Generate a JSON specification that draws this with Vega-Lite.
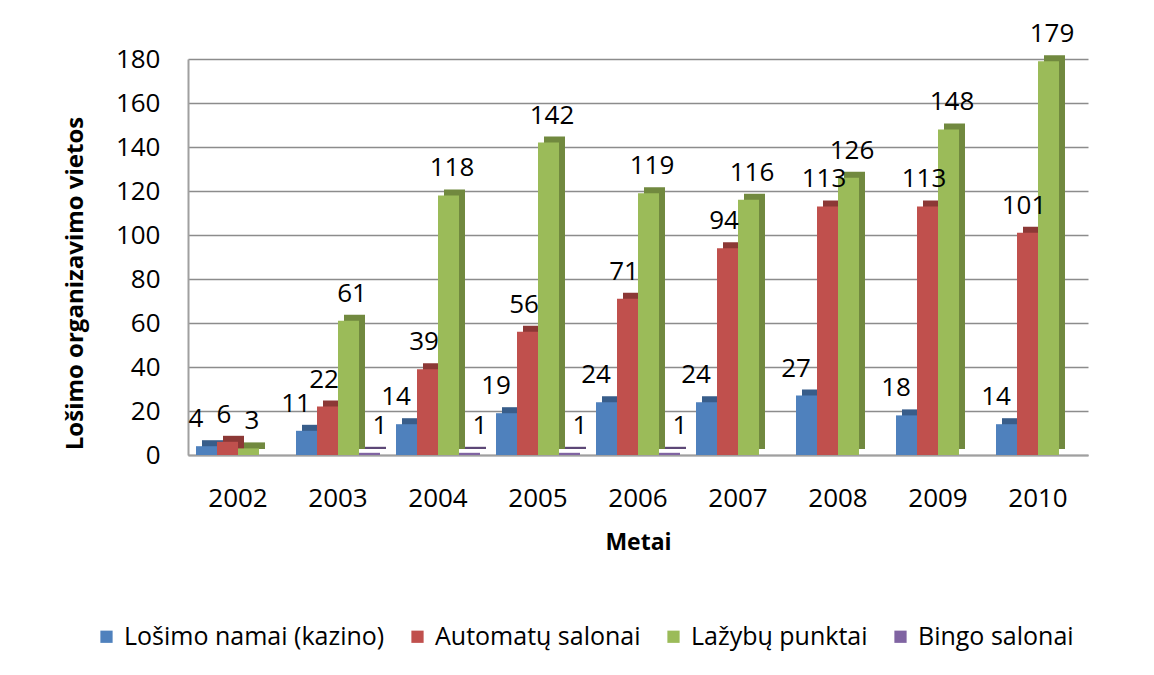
{
  "$schema": "https://vega.github.io/schema/vega-lite/v6.json",
  "width": 900,
  "height": 396,
  "autosize": "none",
  "padding": {"left": 188, "top": 59, "right": 66, "bottom": 220},
  "background": "white",
  "config": {
    "font": "Open Sans",
    "view": {"stroke": null}
  },
  "data": {
    "values": [
      {"year": "2002", "series": "Lošimo namai (kazino)", "value": 4},
      {"year": "2002", "series": "Automatų salonai", "value": 6},
      {"year": "2002", "series": "Lažybų punktai", "value": 3},
      {"year": "2003", "series": "Lošimo namai (kazino)", "value": 11},
      {"year": "2003", "series": "Automatų salonai", "value": 22},
      {"year": "2003", "series": "Lažybų punktai", "value": 61},
      {"year": "2003", "series": "Bingo salonai", "value": 1},
      {"year": "2004", "series": "Lošimo namai (kazino)", "value": 14},
      {"year": "2004", "series": "Automatų salonai", "value": 39},
      {"year": "2004", "series": "Lažybų punktai", "value": 118},
      {"year": "2004", "series": "Bingo salonai", "value": 1},
      {"year": "2005", "series": "Lošimo namai (kazino)", "value": 19},
      {"year": "2005", "series": "Automatų salonai", "value": 56},
      {"year": "2005", "series": "Lažybų punktai", "value": 142},
      {"year": "2005", "series": "Bingo salonai", "value": 1},
      {"year": "2006", "series": "Lošimo namai (kazino)", "value": 24},
      {"year": "2006", "series": "Automatų salonai", "value": 71},
      {"year": "2006", "series": "Lažybų punktai", "value": 119},
      {"year": "2006", "series": "Bingo salonai", "value": 1},
      {"year": "2007", "series": "Lošimo namai (kazino)", "value": 24},
      {"year": "2007", "series": "Automatų salonai", "value": 94},
      {"year": "2007", "series": "Lažybų punktai", "value": 116},
      {"year": "2008", "series": "Lošimo namai (kazino)", "value": 27},
      {"year": "2008", "series": "Automatų salonai", "value": 113},
      {"year": "2008", "series": "Lažybų punktai", "value": 126},
      {"year": "2009", "series": "Lošimo namai (kazino)", "value": 18},
      {"year": "2009", "series": "Automatų salonai", "value": 113},
      {"year": "2009", "series": "Lažybų punktai", "value": 148},
      {"year": "2010", "series": "Lošimo namai (kazino)", "value": 14},
      {"year": "2010", "series": "Automatų salonai", "value": 101},
      {"year": "2010", "series": "Lažybų punktai", "value": 179}
    ]
  },
  "encoding": {
    "x": {
      "field": "year",
      "type": "ordinal",
      "scale": {"paddingInner": 0.16, "paddingOuter": 0.08},
      "axis": {
        "title": "Metai",
        "labelAngle": 0,
        "labelFontSize": 26,
        "labelColor": "black",
        "labelPadding": 30,
        "ticks": false,
        "domainColor": "#a0a0a0",
        "domainWidth": 2,
        "titleFontSize": 23,
        "titleFontWeight": "bold",
        "titleColor": "black",
        "titlePadding": 20
      }
    },
    "y": {
      "field": "value",
      "type": "quantitative",
      "scale": {"domain": [0, 180], "nice": false},
      "axis": {
        "title": "Lošimo organizavimo vietos",
        "values": [0, 20, 40, 60, 80, 100, 120, 140, 160, 180],
        "labelFontSize": 26,
        "labelColor": "black",
        "labelPadding": 28,
        "ticks": false,
        "domainColor": "#a0a0a0",
        "domainWidth": 2,
        "gridColor": "#8c8c8c",
        "gridWidth": 1.5,
        "titleFontSize": 24,
        "titleFontWeight": "bold",
        "titleColor": "black",
        "titleX": -113,
        "titleY": 224,
        "titleAngle": 270,
        "titleAlign": "center",
        "titleBaseline": "middle"
      }
    }
  },
  "resolve": {"scale": {"color": "independent", "xOffset": "independent"}},
  "layer": [
    {
      "mark": {"type": "bar", "stroke": null, "yOffset": -6, "y2Offset": -1},
      "encoding": {
        "xOffset": {
          "field": "series",
          "type": "nominal",
          "scale": {"domain": ["Lošimo namai (kazino)", "Automatų salonai", "Lažybų punktai", "Bingo salonai"], "range": [6, 90], "paddingInner": 0, "paddingOuter": 0}
        },
        "color": {
          "field": "series",
          "type": "nominal",
          "scale": {
            "domain": ["Lošimo namai (kazino)", "Automatų salonai", "Lažybų punktai", "Bingo salonai"],
            "range": ["#385D8A", "#8C3836", "#71893F", "#5C4776"]
          },
          "legend": null
        }
      }
    },
    {
      "mark": {"type": "bar", "stroke": null},
      "encoding": {
        "xOffset": {
          "field": "series",
          "type": "nominal",
          "scale": {"domain": ["Lošimo namai (kazino)", "Automatų salonai", "Lažybų punktai", "Bingo salonai"], "paddingInner": 0, "paddingOuter": 0}
        },
        "color": {
          "field": "series",
          "type": "nominal",
          "scale": {
            "domain": ["Lošimo namai (kazino)", "Automatų salonai", "Lažybų punktai", "Bingo salonai"],
            "range": ["#4F81BD", "#C0504D", "#9BBB59", "#8064A2"]
          },
          "legend": {
            "title": null,
            "orient": "none",
            "direction": "horizontal",
            "legendX": -94,
            "legendY": 565,
            "labelFontSize": 25,
            "labelLimit": 0,
            "labelColor": "black",
            "symbolType": "square",
            "symbolSize": 150,
            "symbolStrokeWidth": 0,
            "columnPadding": 20,
            "labelOffset": 5
          }
        }
      }
    },
    {
      "mark": {"type": "text", "baseline": "alphabetic", "dy": -19, "fontSize": 26, "color": "black"},
      "encoding": {
        "xOffset": {
          "field": "series",
          "type": "nominal",
          "scale": {"domain": ["Lošimo namai (kazino)", "Automatų salonai", "Lažybų punktai", "Bingo salonai"], "paddingInner": 0, "paddingOuter": 0}
        },
        "text": {"field": "value", "type": "quantitative"}
      }
    }
  ]
}
